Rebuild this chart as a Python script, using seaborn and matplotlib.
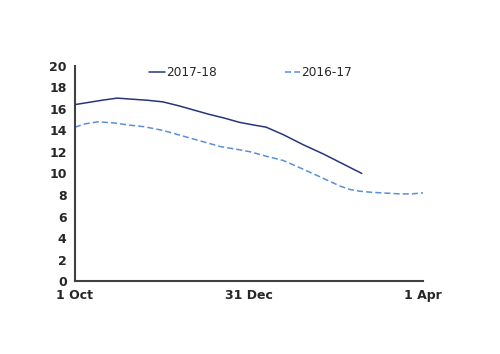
import matplotlib
matplotlib.use("Agg")
import matplotlib.pyplot as plt
import pandas as pd
import seaborn as sns

# days since 1 Oct
days_1718 = [0, 7, 14, 22, 30, 38, 46, 54, 62, 70, 78, 86, 92, 100, 109, 119, 130, 140, 150]
vals_1718 = [16.4, 16.6, 16.8, 17.0, 16.9, 16.8, 16.65, 16.3, 15.9, 15.5, 15.15, 14.75, 14.55, 14.3, 13.6, 12.7, 11.8, 10.9, 10.0]

days_1617 = [0, 5, 12, 20, 28, 36, 46, 56, 66, 76, 86, 92, 100, 109, 118, 128, 134, 139, 144, 149, 155, 160, 170, 176, 182]
vals_1617 = [14.3, 14.6, 14.8, 14.7, 14.5, 14.35, 14.0, 13.5, 13.0, 12.5, 12.2, 12.0, 11.6, 11.2, 10.5, 9.7, 9.2, 8.8, 8.5, 8.35, 8.25, 8.2, 8.1, 8.1, 8.2]

tick_days = [0, 91, 182]
tick_labels = ["1 Oct", "31 Dec", "1 Apr"]

sns.set_style("white")
plt.rcParams["font.family"] = ["DejaVu Sans"]

df_a = pd.DataFrame({"day": days_1718, "value": vals_1718})
df_b = pd.DataFrame({"day": days_1617, "value": vals_1617})

fig = plt.figure(figsize=(5, 3.54), dpi=100)
ax = fig.add_axes([0.15, 0.206, 0.696, 0.608])

sns.lineplot(data=df_a, x="day", y="value", ax=ax, color="#27367a", linewidth=1.1, label="2017-18")
sns.lineplot(data=df_b, x="day", y="value", ax=ax, color="#5b8fd8", linewidth=1.1, linestyle=(0, (4, 2)), label="2016-17")

ax.set_xlim(0, 182)
ax.set_ylim(0, 20)
ax.set_yticks(range(0, 21, 2))
ax.set_xticks(tick_days)
ax.set_xticklabels(tick_labels)
ax.set_xlabel("")
ax.set_ylabel("")

for side in ["top", "right"]:
    ax.spines[side].set_visible(False)
for side in ["left", "bottom"]:
    ax.spines[side].set_color("#404040")
    ax.spines[side].set_linewidth(1.5)

ax.tick_params(axis="both", direction="out", length=4, width=1, color="#404040",
               labelsize=9, pad=2)
for lbl in ax.get_xticklabels() + ax.get_yticklabels():
    lbl.set_fontweight("bold")

ax.legend(loc="upper center", bbox_to_anchor=(0.505, 1.05), ncol=2, frameon=False,
          fontsize=8.7, handlelength=1.3, handletextpad=0.1, columnspacing=5.6)

fig.savefig("out.png", dpi=100)
